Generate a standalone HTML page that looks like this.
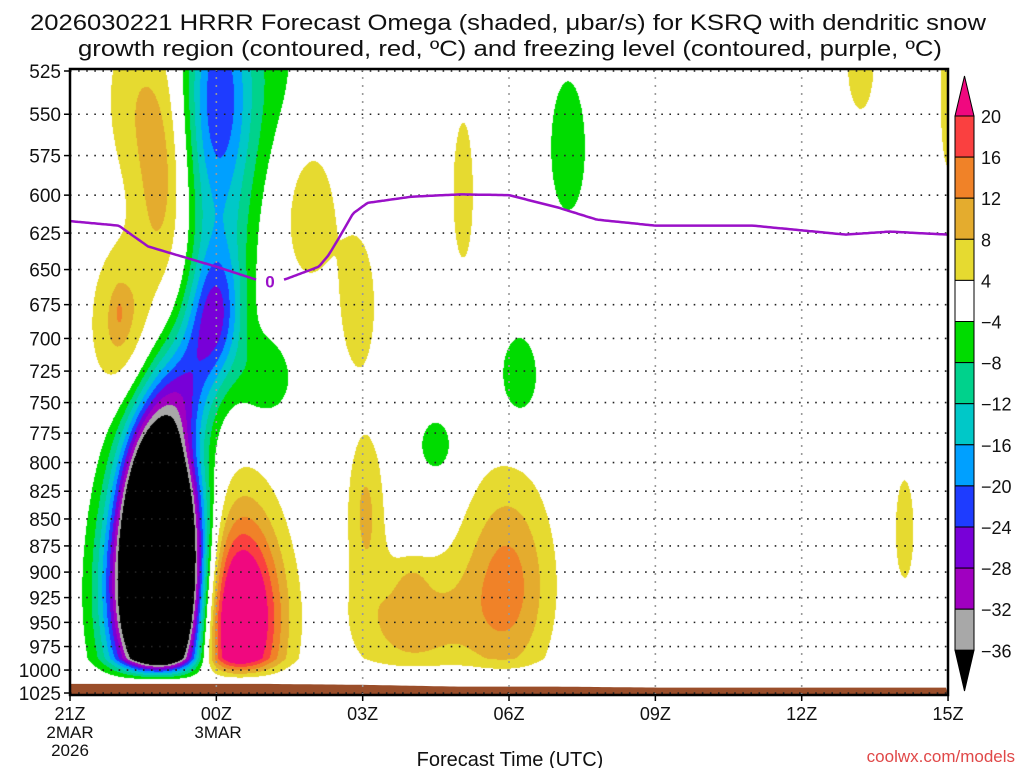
<!DOCTYPE html>
<html><head><meta charset="utf-8">
<style>
html,body{margin:0;padding:0;background:#fff;}
#wrap{position:relative;width:1024px;height:768px;overflow:hidden;font-family:"Liberation Sans",sans-serif;}
#field{position:absolute;left:70px;top:69px;}
#ov{position:absolute;left:0;top:0;}
</style></head>
<body>
<div id="wrap">
<canvas id="field" width="878" height="626"></canvas>
<svg id="ov" width="1024" height="768"></svg>
</div>
<script>
// ---- data ----
const pressureTicks = [525,550,575,600,625,650,675,700,725,750,775,800,825,850,875,900,925,950,975,1000,1025];
const timeTickHours = [0,3,6,9,12,15,18];
const timeTickLabels = ["21Z","00Z","03Z","06Z","09Z","12Z","15Z"];
const levels = [-36,-32,-28,-24,-20,-16,-12,-8,-4,4,8,12,16,20];
const levelColors = ["#000000","#a8a8a8","#a000c0","#7800d8","#1e3cff","#00a0ff","#00c8c8","#00d28c","#00dc00","#ffffff","#e6da30","#e4ac2e","#f08228","#fa4040","#f0087f"];
// omega features: hour offset from 21Z, pressure, amplitude, width(h), depth(hPa)
const blobHour = [1.85,1.8, 3.0,3.0,3.05,3.8, 2.3,2.6, 4.0, 3.35, 1.9,1.3,1.05,1.0, 4.9,5.9,8.05, 6.05,7.0,7.0,8.95, 10.2,9.2,7.5, 16.2,17.1,18.0];
const blobPres = [920,830, 530,680,605,525, 745,705, 730, 945, 595,540,690,680, 610,675,598, 840,950,915,912, 570,730,785, 520,860,540];
const blobAmp  = [-85,-45, -16,-19,-10,-6, -13,-9, -7, 36, 9.5,6,10,3.5, 7,7,6, 8.5,10,4,13.5, -6.5,-7,-6.5, 7,6,7];
const blobW    = [0.65,0.45, 0.45,0.38,0.55,0.8, 0.45,0.4, 0.45, 0.65, 0.4,0.5,0.45,0.08, 0.45,0.3,0.22, 0.28,0.9,0.2,0.65, 0.35,0.35,0.3, 0.25,0.2,0.15];
const blobD    = [75,55, 45,35,50,45, 30,30, 26, 72, 50,40,40,10, 40,40,48, 50,45,15,72, 40,30,20, 25,50,40];
const surfHour = [0,2,4,6,8,10,12,14,16,18];
const surfPres = [1015,1015,1015,1016,1018,1018,1019,1019,1019,1019];
const frzHour = [0,1,1.6,3,3.9,4.4,5.1,5.3,5.5,5.8,6.1,7,8,9,10,10.8,12,14,15.9,16.8,18];
const frzPres = [617,620,634,648,658,657,648,640,629,612,605,601,599.5,600,608,616,620,620,626,624,626];

// ---- axes ----
const X0=70, PXH=48.78, Y0=71, PSC=929.7;
function xOf(h){return X0+h*PXH;}
function yOf(p){return Y0+PSC*Math.log(p/525);}
function hOf(x){return (x-X0)/PXH;}
function pOf(y){return 525*Math.exp((y-Y0)/PSC);}
function interp(xs,ys,x){if(x<=xs[0])return ys[0];for(let i=1;i<xs.length;i++){if(x<=xs[i]){const f=(x-xs[i-1])/(xs[i]-xs[i-1]);return ys[i-1]+f*(ys[i]-ys[i-1]);}}return ys[ys.length-1];}
function hexToRgb(c){return [parseInt(c.substr(1,2),16),parseInt(c.substr(3,2),16),parseInt(c.substr(5,2),16)];}

// ---- field ----
const fieldCanvas=document.getElementById('field');const fctx=fieldCanvas.getContext('2d');
const FW=fieldCanvas.width,FH=fieldCanvas.height;const fimg=fctx.createImageData(FW,FH);
const rgbList=levelColors.map(hexToRgb);
for(let j=0;j<FH;j++){
  const p=pOf(69+j);
  for(let i=0;i<FW;i++){
    const h=hOf(70+i);
    let v=0;
    for(let k=0;k<blobHour.length;k++){
      const dt=(h-blobHour[k])/blobW[k], dp=(p-blobPres[k])/blobD[k];
      const e=dt*dt+dp*dp; if(e<30) v+=blobAmp[k]*Math.exp(-0.5*e);
    }
    v*=Math.max(0,Math.min(1,(1012-p)/25));
    let idx=levels.length;for(let l=0;l<levels.length;l++){if(v<levels[l]){idx=l;break;}}
    const c=rgbList[idx];const o=(j*FW+i)*4;
    fimg.data[o]=c[0];fimg.data[o+1]=c[1];fimg.data[o+2]=c[2];fimg.data[o+3]=255;
  }
}
fctx.putImageData(fimg,0,0);

// ---- overlay ----
const NS='http://www.w3.org/2000/svg';const ovSvg=document.getElementById('ov');
function mk(tag,attrs,parent){const e=document.createElementNS(NS,tag);for(const k in attrs)e.setAttribute(k,attrs[k]);(parent||ovSvg).appendChild(e);return e;}

// terrain
let terrPath='M70,695 ';
for(let x=70;x<=948;x+=4){terrPath+='L'+x+','+yOf(interp(surfHour,surfPres,hOf(x))).toFixed(1)+' ';}
terrPath+='L948,695 Z';
const terr=mk('path',{d:terrPath,fill:'#9a4e2a'});



// grid
pressureTicks.forEach(p=>{
  const y=yOf(p);
  const g=mk('line',{x1:70,x2:948,y1:y,y2:y,stroke:'#222',"stroke-width":1.6,"stroke-dasharray":"1.6,6.5"});
  
  
  const t=mk('line',{x1:64,x2:70,y1:y,y2:y,stroke:'#000',"stroke-width":1.5});
  
  
  const lb=mk('text',{x:61,y:y+7,"text-anchor":"end","font-size":19,fill:'#111'});
  lb.textContent=p;
  
  
});
timeTickHours.forEach((h,i)=>{
  const x=xOf(h);
  if(i>0&&i<timeTickHours.length-1){
    const g=mk('line',{x1:x,x2:x,y1:69,y2:695,stroke:'#999',"stroke-width":1.6,"stroke-dasharray":"2,6"});
    
    
  }
  const t=mk('line',{x1:x,x2:x,y1:695,y2:701,stroke:'#000',"stroke-width":1.5});
  
  
  const lb=mk('text',{x:x,y:720,"text-anchor":"middle","font-size":18,fill:'#111'});
  lb.textContent=timeTickLabels[i];
  
  
});
[["2MAR",70,738],["2026",70,756],["3MAR",218,738]].forEach(a=>{
  const lb=mk('text',{x:a[1],y:a[2],"text-anchor":"middle","font-size":17,fill:'#111'});
  lb.textContent=a[0];
  
  
});

// freezing line
let frzPath='';let penUp=true;
for(let x=70;x<=948;x+=2){const h=hOf(x);if(h>3.85&&h<4.35){penUp=true;continue;}
  const y=yOf(interp(frzHour,frzPres,h));frzPath+=(penUp?'M':'L')+x+','+y.toFixed(1)+' ';penUp=false;}
const fl=mk('path',{d:frzPath,fill:'none',stroke:'#9a10c8',"stroke-width":2.5,"stroke-linejoin":"round"});


const fz=mk('text',{x:xOf(4.1),y:yOf(interp(frzHour,frzPres,4.1))+7,"text-anchor":"middle","font-size":17,"font-weight":"bold",fill:'#9a10c8'});
fz.textContent='0';



// border
const bd=mk('rect',{x:70,y:69,width:878,height:626,fill:'none',stroke:'#000',"stroke-width":2.5});



// colorbar
const cbX=955,cbW=19,segH=41.1,y20=116;
const cbGroup=mk('g',{});


const topArrow=mk('polygon',{points:`${cbX},${y20} ${cbX+cbW},${y20} ${cbX+cbW/2},76`,fill:levelColors[14],stroke:'#000'},cbGroup);


for(let i=13;i>=1;i--){
  const y=y20+(13-i)*segH;
  const r=mk('rect',{x:cbX,y:y,width:cbW,height:segH,fill:levelColors[i],stroke:'#000'},cbGroup);
  
  
}
const ybot=y20+13*segH;
const botArrow=mk('polygon',{points:`${cbX},${ybot} ${cbX+cbW},${ybot} ${cbX+cbW/2},691`,fill:'#000',stroke:'#000'},cbGroup);


for(let i=13;i>=0;i--){
  const y=y20+(13-i)*segH;
  const lv=levels[i];
  const t=mk('text',{x:981,y:y+7,"font-size":18,fill:'#111'},cbGroup);
  t.textContent=(lv<0?'\u2212'+(-lv):''+lv);
  
  
}
</script>
<svg width="1024" height="768" style="position:absolute;left:0;top:0;pointer-events:none">
<text x="508" y="30" text-anchor="middle" font-size="22" font-family="Liberation Sans, sans-serif" fill="#111" textLength="956" lengthAdjust="spacingAndGlyphs">2026030221 HRRR Forecast Omega (shaded, μbar/s) for KSRQ with dendritic snow</text>
<text x="510" y="56" text-anchor="middle" font-size="22" font-family="Liberation Sans, sans-serif" fill="#111" textLength="864" lengthAdjust="spacingAndGlyphs">growth region (contoured, red, ºC) and freezing level (contoured, purple, ºC)</text>
<text x="510" y="766" text-anchor="middle" font-size="20" font-family="Liberation Sans, sans-serif" fill="#111">Forecast Time (UTC)</text>
<text x="1015" y="762" text-anchor="end" font-size="17" font-family="Liberation Sans, sans-serif" fill="#e04848">coolwx.com/models</text>
</svg>
</body></html>
